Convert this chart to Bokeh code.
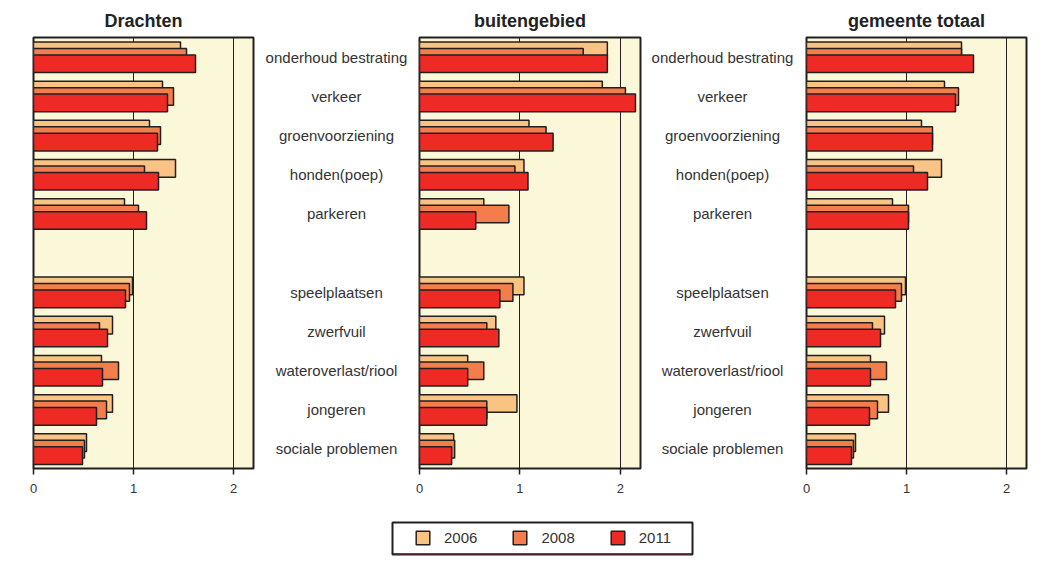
from bokeh.plotting import figure
from bokeh.layouts import row, column
from bokeh.models import ColumnDataSource, FactorRange, Range1d, FixedTicker, Legend, LegendItem
from bokeh.transform import dodge
from bokeh.core.properties import value
from bokeh.embed import file_html
from bokeh.resources import INLINE

# ---------------- data ----------------
categories = ["onderhoud bestrating", "verkeer", "groenvoorziening", "honden(poep)", "parkeren",
              "speelplaatsen", "zwerfvuil", "wateroverlast/riool", "jongeren", "sociale problemen"]
gap_factor = " "
years = ["2006", "2008", "2011"]
panel_titles = ["Drachten", "buitengebied", "gemeente totaal"]
x_ticks = [0, 1, 2]

drachten_2006 = [1.47, 1.29, 1.16, 1.42, 0.91, 0.99, 0.79, 0.68, 0.79, 0.53]
drachten_2008 = [1.53, 1.40, 1.27, 1.11, 1.05, 0.96, 0.66, 0.85, 0.73, 0.51]
drachten_2011 = [1.62, 1.34, 1.24, 1.25, 1.13, 0.92, 0.74, 0.69, 0.63, 0.49]

buiten_2006 = [1.87, 1.82, 1.09, 1.04, 0.64, 1.04, 0.76, 0.48, 0.97, 0.34]
buiten_2008 = [1.63, 2.05, 1.26, 0.95, 0.89, 0.93, 0.67, 0.64, 0.67, 0.35]
buiten_2011 = [1.87, 2.15, 1.33, 1.08, 0.56, 0.80, 0.79, 0.48, 0.67, 0.32]

gemeente_2006 = [1.55, 1.38, 1.15, 1.35, 0.86, 0.99, 0.78, 0.64, 0.82, 0.49]
gemeente_2008 = [1.55, 1.52, 1.26, 1.07, 1.02, 0.95, 0.66, 0.80, 0.71, 0.47]
gemeente_2011 = [1.67, 1.49, 1.26, 1.21, 1.02, 0.89, 0.74, 0.64, 0.63, 0.45]

panel_data = [
    (drachten_2006, drachten_2008, drachten_2011),
    (buiten_2006, buiten_2008, buiten_2011),
    (gemeente_2006, gemeente_2008, gemeente_2011),
]

# ---------------- style ----------------
FONT = "Liberation Sans"
DARK = "#231f20"
TXT = "#333333"
BG = "#faf8d8"
COLORS = ["#f9c383", "#f37e4b", "#ee2a24"]
OFFSETS = [0.16, -0.005, -0.17]
BAR_H = 0.45

factors = list(reversed(categories[:5] + [gap_factor] + categories[5:]))
y_range = FactorRange(factors=factors, range_padding=0)

TOP = 37
FRAME_H = 431
BOTTOM = 32
FIG_H = TOP + FRAME_H + BOTTOM


def make_panel(title, vals, border_left, border_right, frame_w):
    p = figure(width=border_left + frame_w + border_right, height=FIG_H,
               x_range=Range1d(0, 2.2), y_range=y_range,
               output_backend="svg", toolbar_location=None,
               min_border_left=border_left, min_border_right=border_right,
               min_border_top=TOP, min_border_bottom=BOTTOM)
    p.title.text = title
    p.title.align = "center"
    p.title.text_font = FONT
    p.title.text_font_size = "18px"
    p.title.text_font_style = "bold"
    p.title.text_color = "#222222"
    p.title.standoff = 14
    p.background_fill_color = BG
    p.border_fill_color = "white"
    p.outline_line_color = DARK
    p.outline_line_width = 2
    p.yaxis.visible = False
    p.ygrid.visible = False
    p.xaxis.ticker = FixedTicker(ticks=x_ticks)
    p.xgrid.ticker = FixedTicker(ticks=x_ticks)
    p.xgrid.grid_line_color = DARK
    p.xgrid.grid_line_width = 1
    p.xaxis.axis_line_color = None
    p.xaxis.major_tick_line_color = DARK
    p.xaxis.major_tick_line_width = 1.5
    p.xaxis.major_tick_out = 6
    p.xaxis.major_tick_in = 0
    p.xaxis.minor_tick_line_color = None
    p.xaxis.major_label_text_font = FONT
    p.xaxis.major_label_text_font_size = "13px"
    p.xaxis.major_label_text_color = TXT
    p.xaxis.major_label_standoff = 9
    src = ColumnDataSource(dict(cat=categories, v0=vals[0], v1=vals[1], v2=vals[2]))
    for i, (col, off) in enumerate(zip(["v0", "v1", "v2"], OFFSETS)):
        p.hbar(y=dodge("cat", off, range=y_range), left=0, right=col, height=BAR_H,
               source=src, fill_color=COLORS[i], line_color=DARK, line_width=1.5)
    return p


def make_labels(width, xoff):
    p = figure(width=width, height=FIG_H, x_range=Range1d(0, 1), y_range=y_range,
               output_backend="svg", toolbar_location=None,
               min_border_left=0, min_border_right=0,
               min_border_top=TOP, min_border_bottom=BOTTOM)
    p.axis.visible = False
    p.grid.visible = False
    p.outline_line_color = None
    p.background_fill_color = "white"
    src = ColumnDataSource(dict(cat=categories))
    p.text(x=0.5, y="cat", text="cat", source=src, x_offset=xoff,
           text_align="center", text_baseline="middle",
           text_font=value(FONT), text_font_size="15px", text_color=TXT)
    return p


f1 = make_panel(panel_titles[0], panel_data[0], 33, 2, 220)
l1 = make_labels(158, 2)
f2 = make_panel(panel_titles[1], panel_data[1], 6, 2, 221)
l2 = make_labels(158, 1)
f3 = make_panel(panel_titles[2], panel_data[2], 6, 21, 220)

# legend figure: its frame is the legend box
lf = figure(width=1047, height=58, x_range=Range1d(0, 1), y_range=Range1d(0, 1),
            output_backend="svg", toolbar_location=None,
            min_border_left=392, min_border_right=355, min_border_top=22, min_border_bottom=4)
lf.axis.visible = False
lf.grid.visible = False
lf.outline_line_color = DARK
lf.outline_line_width = 2
lf.background_fill_color = "white"
items = []
for yr, c in zip(years, COLORS):
    # legend proxy glyph, kept outside the visible range
    r = lf.hbar(y=[-5], left=[0], right=[1], height=0.5,
                fill_color=c, line_color=DARK, line_width=1.5)
    items.append(LegendItem(label=yr, renderers=[r]))
leg = Legend(items=items, orientation="horizontal", location=(22, 8), margin=0,
             padding=7, spacing=34, label_standoff=13, label_width=32, label_height=17,
             glyph_width=17, glyph_height=17,
             label_text_font=FONT, label_text_font_size="15px", label_text_color=TXT,
             border_line_color=None, background_fill_alpha=0)
lf.add_layout(leg, "center")

layout = column(row(f1, l1, f2, l2, f3, spacing=0), lf, spacing=0)

open("out.html", "w").write(file_html(layout, INLINE))
